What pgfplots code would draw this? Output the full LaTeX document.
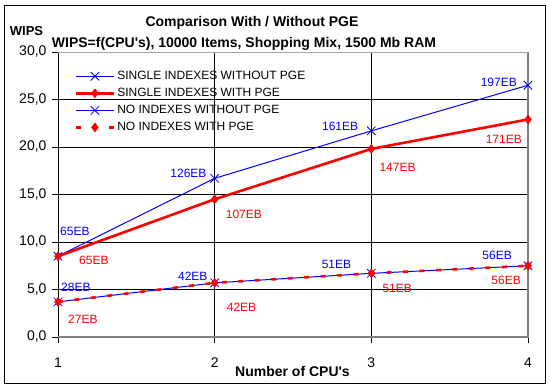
\documentclass[border=0pt]{standalone}
\usepackage{pgfplots}
\pgfplotsset{compat=1.18}
\usepackage{fontspec}
\setmainfont{Liberation Sans}
\definecolor{xblue}{RGB}{0,0,255}
\definecolor{xred}{RGB}{255,0,0}
\begin{document}
\begin{tikzpicture}[x=1pt,y=1pt]
\path[use as bounding box] (-58,-53) rectangle (493,337);
\draw[black, line width=1pt] (-53,-47) rectangle (487,331);
\begin{axis}[
  at={(0,0)}, anchor=origin,
  scale only axis, width=470pt, height=285pt,
  xmin=1, xmax=4, ymin=0, ymax=30,
  xtick={1,2,3,4}, ytick={0,5,10,15,20,25,30},
  grid=major, major grid style={black, line width=0.8pt},
  axis line style={black, line width=0.8pt},
  tick align=outside, major tick length=6pt,
  tick style={black, line width=0.8pt},
  xtick pos=bottom, ytick pos=left,
  ticklabel style={font=\fontsize{14}{16}\selectfont},
  xticklabel style={yshift=-11pt},
  yticklabel style={xshift=-2pt},
  /pgf/number format/assume math mode=true,
  yticklabel={\pgfmathprintnumber[fixed, fixed zerofill, precision=1, use comma]{\tick}},
  xticklabel={\pgfmathprintnumber{\tick}},
  legend style={draw=none, fill=none, at={(axis description cs:0.035,0.94)}, anchor=north west,
    font=\fontsize{12}{13}\selectfont, row sep=3.2pt, inner sep=0pt},
  legend cell align=left,
  legend image code/.code={\draw[mark repeat=2,mark phase=2,#1] plot coordinates {(0pt,0pt) (19pt,0pt) (38pt,0pt)};},
  clip=false,
]
\addplot[xblue, line width=1pt, mark=x, mark size=6pt, mark options={solid, line width=0.8pt}]
  coordinates {(1,8.5) (2,16.7) (3,21.7) (4,26.5)};
\addlegendentry{SINGLE INDEXES WITHOUT PGE}
\addplot[xred, line width=2.6pt, mark=diamond*, mark size=4.5pt, mark options={solid, line width=0.5pt}]
  coordinates {(1,8.5) (2,14.5) (3,19.8) (4,22.9)};
\addlegendentry{SINGLE INDEXES WITH PGE}
\addplot[xblue, line width=1pt, mark=x, mark size=6pt, mark options={solid, line width=0.8pt}]
  coordinates {(1,3.7) (2,5.7) (3,6.7) (4,7.5)};
\addlegendentry{NO INDEXES WITHOUT PGE}
\addplot[xred, line width=2.6pt, dash pattern=on 5pt off 11.5pt, mark=diamond*, mark size=4.5pt, mark options={solid, line width=0.5pt}]
  coordinates {(1,3.7) (2,5.7) (3,6.7) (4,7.5)};
\addlegendentry{NO INDEXES WITH PGE}
\draw[gray, line width=1.5pt] (rel axis cs:0,0) -- (rel axis cs:1,0) -- (rel axis cs:1,1);
\draw[gray!70, line width=0.8pt] (rel axis cs:0,1) -- (rel axis cs:1,1);
% data labels
\begin{scope}[every node/.style={font=\fontsize{12}{13}\selectfont, inner sep=0pt}]
\node[xblue, anchor=west] at ([xshift=2pt,yshift=25pt]axis cs:1,8.5) {65EB};
\node[xred, anchor=west] at ([xshift=21pt,yshift=-4pt]axis cs:1,8.5) {65EB};
\node[xblue, anchor=west] at ([xshift=3pt,yshift=14pt]axis cs:1,3.7) {28EB};
\node[xred, anchor=west] at ([xshift=10pt,yshift=-17pt]axis cs:1,3.7) {27EB};
\node[xblue, anchor=east] at ([xshift=-7pt,yshift=7pt]axis cs:2,5.7) {42EB};
\node[xred, anchor=west] at ([xshift=12pt,yshift=-24pt]axis cs:2,5.7) {42EB};
\node[xblue, anchor=east] at ([xshift=-8pt,yshift=5pt]axis cs:2,16.7) {126EB};
\node[xred, anchor=west] at ([xshift=11pt,yshift=-15pt]axis cs:2,14.5) {107EB};
\node[xblue, anchor=east] at ([xshift=-13pt,yshift=4pt]axis cs:3,21.7) {161EB};
\node[xred, anchor=west] at ([xshift=8pt,yshift=-18pt]axis cs:3,19.8) {147EB};
\node[xblue, anchor=east] at ([xshift=-11pt,yshift=3pt]axis cs:4,26.5) {197EB};
\node[xred, anchor=east] at ([xshift=-6pt,yshift=-20pt]axis cs:4,22.9) {171EB};
\node[xblue, anchor=east] at ([xshift=-20pt,yshift=9pt]axis cs:3,6.7) {51EB};
\node[xred, anchor=west] at ([xshift=11pt,yshift=-15pt]axis cs:3,6.7) {51EB};
\node[xblue, anchor=east] at ([xshift=-16pt,yshift=10pt]axis cs:4,7.5) {56EB};
\node[xred, anchor=east] at ([xshift=-7pt,yshift=-15pt]axis cs:4,7.5) {56EB};
\end{scope}
\end{axis}
\node[font=\bfseries\fontsize{14}{16}\selectfont] at (194,314) {Comparison With / Without PGE};
\node[font=\bfseries\fontsize{14}{16}\selectfont] at (186,293) {WIPS=f(CPU\textquotesingle s), 10000 Items, Shopping Mix, 1500 Mb RAM};
\node[font=\bfseries\fontsize{13}{15}\selectfont] at (-31.5,306) {WIPS};
\node[font=\bfseries\fontsize{14}{16}\selectfont] at (234.5,-34) {Number of CPU\textquotesingle s};
\end{tikzpicture}
\end{document}
